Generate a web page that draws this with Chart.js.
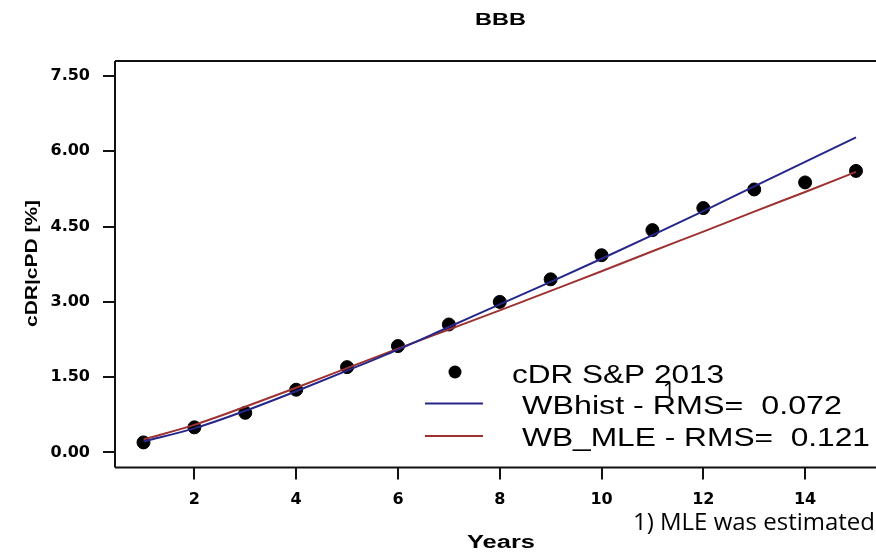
<!DOCTYPE html>
<html><head><meta charset="utf-8">
<script src="https://cdn.jsdelivr.net/npm/chart.js@4.4.1/dist/chart.umd.min.js"></script>
<style>
html,body{margin:0;padding:0;background:#fff;overflow:hidden;width:876px;height:553px;}
#wrap{position:relative;width:892px;height:553px;}
</style></head><body>
<div id="wrap"><canvas id="c"></canvas></div>
<script>
const years = [1,2,3,4,5,6,7,8,9,10,11,12,13,14,15];
const cdrSP2013 = [0.20,0.50,0.79,1.25,1.70,2.12,2.55,3.00,3.45,3.93,4.43,4.87,5.24,5.38,5.61];
const wbHist = [0.22,0.48,0.83,1.22,1.63,2.05,2.50,2.95,3.40,3.86,4.33,4.81,5.30,5.79,6.28];
const wbMLE = [0.26,0.55,0.91,1.29,1.68,2.07,2.45,2.83,3.22,3.61,4.01,4.40,4.80,5.19,5.59];
const xTicks = [2,4,6,8,10,12,14];
const yTicks = [0,1.5,3,4.5,6,7.5];
const chartTitle = 'BBB';
const xTitle = 'Years';
const yTitle = 'cDR|cPD [%]';
const seriesNames = ['cDR S&P 2013','WBhist - RMS=  0.072','WB_MLE - RMS=  0.121'];
const footnote = '1) MLE was estimated';
const footMark = '1';

const BLUE = '#26268a';
const RED = '#9e3232';

function pts(ys){ return years.map((x,i)=>({x:x,y:ys[i]})); }

function fitText(ctx, text, x, y, font, width, align, baseline, rot){
  ctx.save();
  ctx.font = font;
  ctx.textBaseline = baseline || 'alphabetic';
  ctx.textAlign = 'left';
  const w = ctx.measureText(text).width;
  const tw = width || w;
  const s = tw / w;
  ctx.translate(x, y);
  if (rot) ctx.rotate(rot);
  let x0 = 0;
  if (align === 'center') x0 = -tw/2;
  else if (align === 'right') x0 = -tw;
  ctx.translate(x0, 0);
  ctx.scale(s, 1);
  ctx.fillStyle = '#000';
  ctx.fillText(text, 0, 0);
  ctx.restore();
}

const boxPlugin = {
  id: 'box',
  beforeDatasetsDraw(chart){
    const a = chart.chartArea, ctx = chart.ctx;
    ctx.save();
    ctx.strokeStyle = '#111';
    ctx.lineWidth = 2;
    ctx.beginPath();
    ctx.moveTo(a.left, a.top); ctx.lineTo(a.right, a.top);
    ctx.moveTo(a.left, a.bottom); ctx.lineTo(a.right, a.bottom);
    ctx.moveTo(a.left, a.top); ctx.lineTo(a.left, a.bottom);
    ctx.moveTo(a.right, a.top); ctx.lineTo(a.right, a.bottom);
    ctx.stroke();
    ctx.restore();
  }
};

const textPlugin = {
  id: 'texts',
  afterDraw(chart){
    const ctx = chart.ctx;
    const ds = chart.data.datasets;
    fitText(ctx, chartTitle, 500.5, 25, 'bold 17px "Liberation Sans", Arial, sans-serif', 51, 'center');
    fitText(ctx, xTitle, 501, 548, 'bold 18px "Liberation Sans", Arial, sans-serif', 68, 'center');
    fitText(ctx, yTitle, 37, 263.5, 'bold 16px "Liberation Sans", Arial, sans-serif', 127, 'center', 'alphabetic', -Math.PI/2);
    // legend
    ctx.save();
    ctx.fillStyle = '#000';
    ctx.beginPath(); ctx.arc(455, 372, 6.5, 0, Math.PI*2); ctx.fill();
    ctx.lineWidth = 2;
    ctx.strokeStyle = ds[0].borderColor;
    ctx.beginPath(); ctx.moveTo(425, 403.5); ctx.lineTo(483, 403.5); ctx.stroke();
    ctx.strokeStyle = ds[1].borderColor;
    ctx.beginPath(); ctx.moveTo(425, 436); ctx.lineTo(483, 436); ctx.stroke();
    ctx.restore();
    const lf = '25px "Liberation Sans", Arial, sans-serif';
    fitText(ctx, seriesNames[0], 512, 382.5, lf, 212, 'left');
    fitText(ctx, seriesNames[1], 522, 414, lf, 320, 'left');
    fitText(ctx, seriesNames[2], 522, 446, lf, 348, 'left');
    fitText(ctx, footMark, 669, 398, '22px "Open Sans", sans-serif', 0, 'center');
    fitText(ctx, footnote, 633, 530, '23px "Open Sans", sans-serif', 242, 'left');
  }
};

const tickFont = {family:'"DejaVu Sans", sans-serif', weight:'bold', size:16};

new Chart(document.getElementById('c'), {
  type: 'scatter',
  data: {
    datasets: [
      {label: seriesNames[1], data: pts(wbHist), showLine:true, borderColor:BLUE, backgroundColor:BLUE,
       borderWidth:2, pointRadius:0, cubicInterpolationMode:'monotone'},
      {label: seriesNames[2], data: pts(wbMLE), showLine:true, borderColor:RED, backgroundColor:RED,
       borderWidth:2, pointRadius:0, cubicInterpolationMode:'monotone'},
      {label: seriesNames[0], data: pts(cdrSP2013), showLine:false, pointRadius:6.5,
       pointBackgroundColor:'#000', pointBorderColor:'#000', borderColor:'#000', backgroundColor:'#000'}
    ]
  },
  options: {
    responsive: true, maintainAspectRatio: false, animation: false, devicePixelRatio: 1,
    layout: {padding: {top:61, right:4, left:0, bottom:0}},
    plugins: {legend:{display:false}, tooltip:{enabled:false}, title:{display:false}},
    scales: {
      x: {
        type:'linear', min:0.44, max:15.56,
        afterBuildTicks: s => { s.ticks = xTicks.map(v => ({value:v})); },
        afterFit: s => { s.height = 85.5; },
        grid: {drawOnChartArea:false, drawTicks:true, tickLength:12, color:'#111', lineWidth:2},
        border: {display:false},
        ticks: {font:tickFont, color:'#000', padding:11, maxRotation:0, autoSkip:false,
                callback: v => String(v)}
      },
      y: {
        type:'linear', min:-0.3, max:7.8,
        afterBuildTicks: s => { s.ticks = yTicks.map(v => ({value:v})); },
        afterFit: s => { s.width = 115; },
        grid: {drawOnChartArea:false, drawTicks:true, tickLength:12, color:'#111', lineWidth:2},
        border: {display:false},
        ticks: {font:tickFont, color:'#000', padding:13, autoSkip:false,
                callback: v => Number(v).toFixed(2)}
      }
    }
  },
  plugins: [boxPlugin, textPlugin]
});
</script>
</body></html>
